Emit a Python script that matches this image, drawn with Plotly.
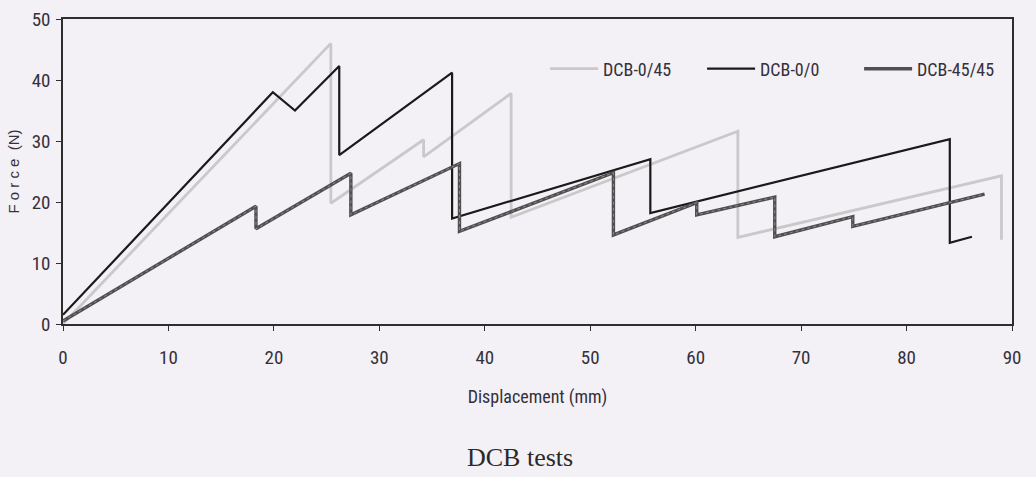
import plotly.graph_objects as go

# ---- data ----
disp_0_45 = [0, 25.4, 25.4, 34.2, 34.2, 42.5, 42.5, 64.0, 64.0, 89.0, 89.0]
force_0_45 = [0, 46.0, 19.8, 30.2, 27.4, 37.8, 17.5, 31.6, 14.2, 24.3, 13.8]

disp_0_0 = [0, 19.9, 22.0, 26.2, 26.2, 36.9, 36.9, 55.7, 55.7, 84.1, 84.1, 86.2]
force_0_0 = [1.5, 38.0, 35.0, 42.3, 27.7, 41.2, 17.3, 27.0, 18.2, 30.3, 13.3, 14.3]

disp_45_45 = [0, 18.3, 18.3, 27.3, 27.3, 37.6, 37.6, 52.2, 52.2, 60.1, 60.1, 67.5, 67.5, 74.9, 74.9, 87.4]
force_45_45 = [0.5, 19.3, 15.6, 24.7, 17.9, 26.3, 15.2, 24.8, 14.6, 19.9, 17.9, 20.8, 14.3, 17.6, 16.0, 21.3]

series_names = ["DCB-0/45", "DCB-0/0", "DCB-45/45"]
x_ticks = [0, 10, 20, 30, 40, 50, 60, 70, 80, 90]
y_ticks = [0, 10, 20, 30, 40, 50]

NARROW = "Liberation Sans Narrow, Arial Narrow, Roboto Condensed, Liberation Sans, Arial, sans-serif"
BG = "#f3f0f6"
INK = "#35303a"

fig = go.Figure()
fig.add_trace(go.Scatter(x=disp_0_45, y=force_0_45, mode="lines", name=series_names[0],
                         line=dict(color="#c9c9c9", width=2.8)))
fig.add_trace(go.Scatter(x=disp_0_0, y=force_0_0, mode="lines", name=series_names[1],
                         line=dict(color="#1a1a1a", width=2.2)))
fig.add_trace(go.Scatter(x=disp_45_45, y=force_45_45, mode="lines", name=series_names[2],
                         line=dict(color="#4f4f4f", width=3.4)))
# speckle texture on the 45/45 curve
fig.add_trace(go.Scatter(x=disp_45_45, y=force_45_45, mode="lines", showlegend=False,
                         hoverinfo="skip",
                         line=dict(color="#8c8c8c", width=1, dash="dot")))

fig.update_layout(
    width=1036, height=477,
    paper_bgcolor=BG, plot_bgcolor=BG,
    margin=dict(l=63, r=24, t=19, b=153, autoexpand=False),
    font=dict(family=NARROW, size=14, color=INK),
    showlegend=True,
    legend=dict(orientation="h", x=0.508, y=0.836, xanchor="left", yanchor="middle",
                bgcolor="rgba(0,0,0,0)", font=dict(family=NARROW, size=18, color=INK),
                entrywidth=94, entrywidthmode="pixels", itemwidth=48),
    xaxis=dict(range=[0, 90], tickvals=x_ticks, ticktext=[str(v) for v in x_ticks],
               showgrid=False, zeroline=False, showline=True, linecolor="#2e2e2e", linewidth=1.5,
               mirror=True, ticks="outside", ticklen=5, tickcolor="#2e2e2e", tickwidth=1.2,
               ticklabelstandoff=10,
               tickfont=dict(family=NARROW, size=19, color=INK),
               title=dict(text="Displacement (mm)", standoff=23,
                          font=dict(family=NARROW, size=18, color=INK))),
    yaxis=dict(range=[0, 50], tickvals=y_ticks, ticktext=[str(v) for v in y_ticks],
               showgrid=False, zeroline=False, showline=True, linecolor="#2e2e2e", linewidth=1.5,
               mirror=True, ticks="outside", ticklen=5, tickcolor="#2e2e2e", tickwidth=1.2,
               ticklabelstandoff=2,
               tickfont=dict(family=NARROW, size=19, color=INK),
               title=dict(text="F o r c e  (N)", standoff=8,
                          font=dict(family="Liberation Sans, Arial, sans-serif", size=15, color=INK))),
    annotations=[dict(text="DCB tests", xref="paper", yref="paper", x=0.4816, y=-0.439,
                      xanchor="center", yanchor="middle", showarrow=False,
                      font=dict(family="Liberation Serif, Times New Roman, serif", size=26, color="#2a2a2a"))],
)

fig.write_html("out.html", config={"displayModeBar": False},
               post_script="document.body.style.margin='0';document.body.style.overflow='hidden';")
